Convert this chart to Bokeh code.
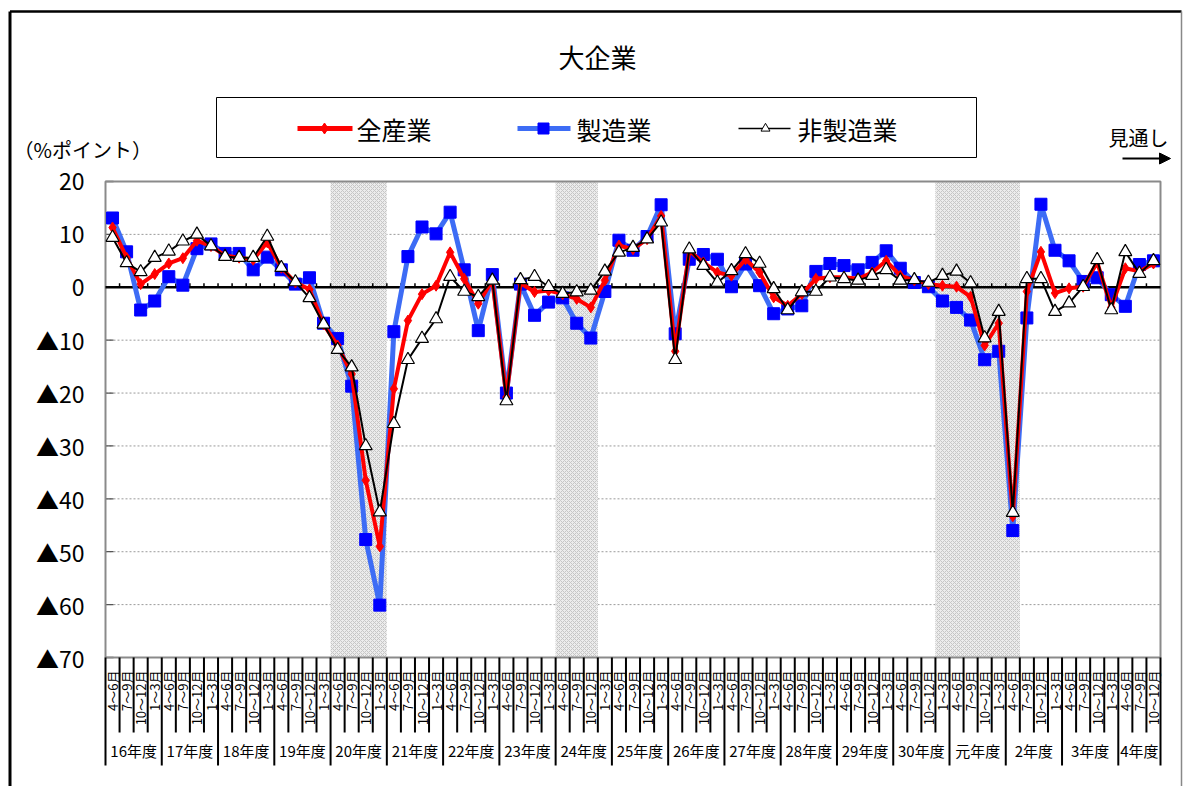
import math
from bokeh.plotting import figure
from bokeh.models import Range1d, Arrow, NormalHead
from bokeh.core.properties import value
from bokeh.embed import file_html
from bokeh.resources import INLINE

FONT = "Noto Sans CJK JP"

# ---------------- data ----------------
fiscal_years = ["16年度", "17年度", "18年度", "19年度", "20年度", "21年度", "22年度",
                "23年度", "24年度", "25年度", "26年度", "27年度", "28年度", "29年度",
                "30年度", "元年度", "2年度", "3年度", "4年度"]
quarter_labels = ["4～6月", "7～9月", "10～12月", "1～3月"]

all_industries = [
    11.3, 5.6, 0.6, 2.5, 4.5, 5.5, 8.8, 7.8, 6.0, 5.6, 5.2, 8.5, 3.7, 0.9, -0.4, -7.0,
    -11.0, -16.4, -36.5, -49.0, -19.2, -6.3, -1.3, 0.3, 6.6, 1.6, -3.1, 1.3, -20.8, 0.8, -0.9, -0.6,
    -1.3, -2.2, -3.8, 1.3, 7.9, 7.2, 9.1, 13.5, -12.1, 6.9, 4.7, 2.8, 2.2, 5.3, 2.8, -1.9,
    -3.5, -1.3, 1.6, 1.9, 1.9, 1.6, 2.8, 5.0, 2.2, 1.3, 0.6, 0.3, 0.1, -1.8, -11.0, -6.8,
    -43.3, -0.8, 6.7, -1.1, -0.2, 0.1, 4.7, -3.8, 3.6, 3.0, 4.5]

manufacturing = [
    13.1, 6.7, -4.3, -2.6, 2.0, 0.4, 7.3, 8.2, 6.4, 6.4, 3.3, 5.7, 3.3, 0.6, 1.8, -6.8,
    -9.7, -18.7, -47.7, -60.1, -8.4, 5.8, 11.4, 10.1, 14.2, 3.3, -8.2, 2.4, -20.0, 0.6, -5.3, -2.8,
    -2.0, -6.8, -9.6, -0.8, 8.9, 7.0, 9.6, 15.6, -8.8, 5.3, 6.2, 5.3, 0.1, 4.4, 0.3, -5.0,
    -4.1, -3.5, 3.0, 4.5, 4.1, 3.3, 4.7, 6.9, 3.6, 0.9, 0.1, -2.6, -3.8, -6.2, -13.7, -12.1,
    -46.0, -5.8, 15.7, 7.0, 5.0, 1.1, 1.8, -1.4, -3.6, 4.3, 5.0]

non_manufacturing = [
    9.4, 4.6, 2.9, 5.6, 6.8, 8.7, 10.0, 7.8, 5.8, 5.6, 5.6, 9.6, 3.7, 1.0, -2.0, -7.0,
    -11.8, -15.1, -30.0, -42.5, -25.8, -13.7, -9.7, -6.0, 2.0, -0.8, -1.8, 1.3, -21.5, 1.4, 2.0, 0.1,
    -1.2, -0.9, -0.6, 3.0, 6.6, 7.5, 9.1, 12.3, -13.7, 7.2, 4.1, 0.9, 3.1, 6.3, 4.5, -0.3,
    -4.3, -0.9, -0.8, 1.9, 1.6, 1.3, 2.2, 3.3, 1.3, 1.4, 0.9, 2.2, 3.0, 0.8, -9.6, -4.6,
    -42.6, 1.6, 1.6, -4.6, -3.0, 0.1, 5.2, -4.3, 6.7, 2.6, 5.0]

# shaded periods as (first quarter index, last quarter index + 1)
shaded_periods = [(16, 20), (32, 35), (59, 65)]

y_ticks = [20, 10, 0, -10, -20, -30, -40, -50, -60, -70]
y_tick_labels = ["20", "10", "0", "▲10", "▲20", "▲30", "▲40", "▲50", "▲60", "▲70"]

series_names = ["全産業", "製造業", "非製造業"]

# ---------------- layout helpers (page px -> data) ----------------
ORIGIN = 0          # page position of the canvas' top-left corner
W, H = 1184, 786
PLOT_L, PLOT_R, PLOT_T, PLOT_B = 105, 1160, 181, 657
N = len(all_industries)
SX = (PLOT_R - PLOT_L) / N
SY = (PLOT_B - PLOT_T) / 90.0


def X(px):
    return (px - PLOT_L) / SX


def Y(py):
    return 20 - (py - PLOT_T) / SY


p = figure(width=W, height=H, output_backend="svg", toolbar_location=None,
           x_range=Range1d(X(ORIGIN), X(ORIGIN + W)), y_range=Range1d(Y(ORIGIN + H), Y(ORIGIN)),
           x_axis_location=None, y_axis_location=None,
           min_border=0, min_border_left=0, min_border_right=0,
           min_border_top=0, min_border_bottom=0,
           background_fill_color="white", border_fill_color="white",
           outline_line_color=None)
p.grid.visible = False

xs = [i + 0.5 for i in range(N)]

# grid lines
grid_vals = [v for v in y_ticks if v not in (20, 0, -70)]
p.segment(x0=[0] * len(grid_vals), x1=[N] * len(grid_vals), y0=grid_vals, y1=grid_vals,
          line_color="#9a9a9a", line_width=1, line_dash="2 2")

# shaded periods
p.quad(left=[a for a, b in shaded_periods], right=[b for a, b in shaded_periods],
       top=[20] * len(shaded_periods), bottom=[-70] * len(shaded_periods),
       fill_color="#ececec", line_color=None,
       hatch_pattern="diagonal_cross", hatch_color="#c6c6c6", hatch_scale=4, hatch_weight=1)

# left small ticks
p.segment(x0=[0] * len(y_ticks), x1=[X(113)] * len(y_ticks), y0=y_ticks, y1=y_ticks,
          line_color="#555555", line_width=1.3)

# plot frame
p.quad(left=[0], right=[N], top=[20], bottom=[-70], fill_color=None,
       line_color="#8a8a8a", line_width=2)

# zero line with ticks
p.segment(x0=[0], x1=[N], y0=[0], y1=[0], line_color="black", line_width=2.5)
kk = list(range(1, N))
p.segment(x0=kk, x1=kk, y0=[0] * len(kk), y1=[4 / SY] * len(kk),
          line_color="black", line_width=1.5)

# series
p.line(xs, manufacturing, line_color="#3d6cf5", line_width=5)
p.scatter(xs, manufacturing, marker="square", size=12, fill_color="#0000ff", line_color="#0000ff")
p.line(xs, all_industries, line_color="#ff0000", line_width=4)
p.scatter(xs, all_industries, marker="diamond", size=11, fill_color="#ff0000", line_color="#ff0000")
p.line(xs, non_manufacturing, line_color="black", line_width=2)
p.scatter(xs, non_manufacturing, marker="triangle", size=13, fill_color="white",
          line_color="black", line_width=1.2)

# y tick labels
p.text(x=[X(84)] * len(y_ticks), y=y_ticks, text=y_tick_labels, text_font=value(FONT),
       text_font_size="23px", text_align="right", text_baseline="middle", text_color="black")

# category separators and labels
bounds = list(range(0, N + 1))
year_bounds = set(list(range(0, N + 1, 4)) + [N])
p.segment(x0=bounds, x1=bounds, y0=[-70] * len(bounds),
          y1=[Y(765) if k in year_bounds else Y(732) for k in bounds],
          line_color="black", line_width=2)

q_text = [quarter_labels[i % 4] for i in range(N)]
p.text(x=xs, y=[Y(670)] * N, text=q_text, angle=math.pi / 2, text_font=value(FONT),
       text_font_size="13px", text_align="right", text_baseline="middle", text_color="black")

year_x = []
for j, fy in enumerate(fiscal_years):
    a = 4 * j
    b = min(4 * j + 4, N)
    year_x.append((a + b) / 2)
p.text(x=year_x, y=[Y(750)] * len(fiscal_years), text=fiscal_years, text_font=value(FONT),
       text_font_size="15px", text_align="center", text_baseline="middle", text_color="black")

# title
p.text(x=[X(597)], y=[Y(56)], text=["大企業"], text_font=value(FONT), text_font_size="26px",
       text_align="center", text_baseline="middle", text_color="black")

# unit label
p.text(x=[X(13)], y=[Y(149)], text=["（%ポイント）"], text_font=value(FONT),
       text_font_size="20px", text_align="left", text_baseline="middle", text_color="black")

# legend box
p.quad(left=[X(216)], right=[X(976)], top=[Y(97)], bottom=[Y(157)], fill_color="white",
       line_color="black", line_width=1)
ly = Y(128)
p.line([X(297), X(352)], [ly, ly], line_color="#ff0000", line_width=5)
p.scatter([X(324)], [ly], marker="diamond", size=11, fill_color="#ff0000", line_color="#ff0000")
p.line([X(517), X(570)], [ly, ly], line_color="#3d6cf5", line_width=5)
p.scatter([X(543)], [ly], marker="square", size=11, fill_color="#0000ff", line_color="#0000ff")
p.line([X(738), X(790)], [ly, ly], line_color="black", line_width=1.5)
p.scatter([X(765)], [ly], marker="triangle", size=9, fill_color="white", line_color="black",
          line_width=1)
p.text(x=[X(356), X(576), X(797)], y=[ly] * 3, text=series_names, text_font=value(FONT),
       text_font_size="25px", text_align="left", text_baseline="middle", text_color="black")

# forecast marker
p.text(x=[X(1138)], y=[Y(137)], text=["見通し"], text_font=value(FONT), text_font_size="20px",
       text_align="center", text_baseline="middle", text_color="black")
p.add_layout(Arrow(end=NormalHead(size=11, fill_color="black", line_color="black"),
                   x_start=X(1122), y_start=Y(158), x_end=X(1170), y_end=Y(158),
                   line_color="black", line_width=2))

# outer frame
p.line([X(9.5), X(9.5)], [Y(790), Y(11)], line_color="black", line_width=3)
p.line([X(9.5), X(1181)], [Y(11), Y(11)], line_color="black", line_width=2.5)
p.line([X(1181), X(1181)], [Y(11), Y(790)], line_color="#888888", line_width=1.5)

open("out.html", "w").write(file_html(p, INLINE))
